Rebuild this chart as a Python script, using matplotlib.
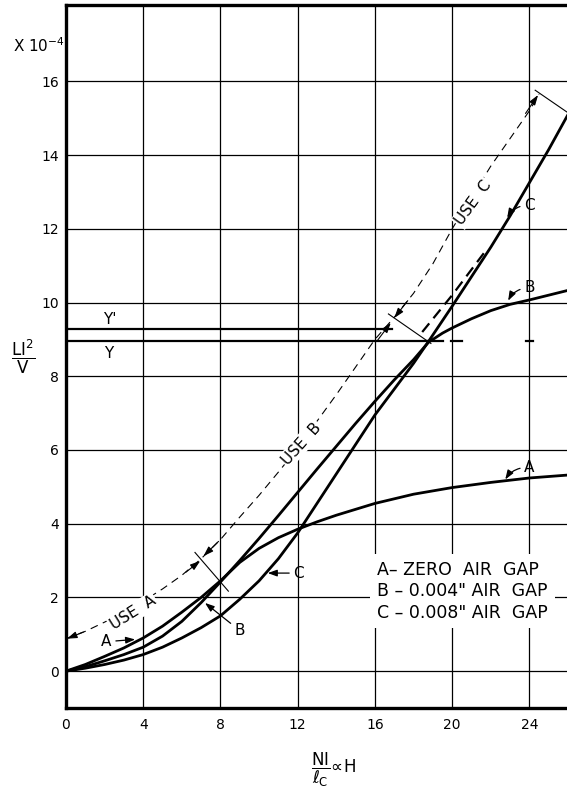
import matplotlib
matplotlib.use("Agg")
import matplotlib.pyplot as plt

# ---------------- data ----------------
x_ticks = [0, 4, 8, 12, 16, 20, 24]
y_ticks = [0, 2, 4, 6, 8, 10, 12, 14, 16]

# Curve A - zero air gap
a_x = [0, 1, 2, 3, 4, 5, 6, 7, 8, 9, 10, 11, 12, 13, 14, 16, 18, 20, 22, 24, 26]
a_y = [0, 0.18, 0.4, 0.63, 0.9, 1.22, 1.6, 2.0, 2.45, 2.95, 3.33, 3.62, 3.85, 4.05, 4.23, 4.55, 4.8, 4.98, 5.12, 5.24, 5.32]

# Curve B - 0.004" air gap
b_x = [0, 1, 2, 3, 4, 5, 6, 7, 8, 9, 10, 11, 12, 13, 14, 15, 16, 17, 18, 18.77, 19.5, 20, 21, 22, 23, 24, 25, 26]
b_y = [0, 0.12, 0.28, 0.45, 0.65, 0.95, 1.35, 1.86, 2.42, 3.0, 3.6, 4.22, 4.85, 5.48, 6.1, 6.72, 7.32, 7.9, 8.45, 8.92, 9.17, 9.31, 9.56, 9.78, 9.95, 10.07, 10.2, 10.33]

# Curve C - 0.008" air gap
c_x = [0, 1, 2, 3, 4, 5, 6, 7, 8, 9, 10, 11, 12, 13, 14, 15, 16, 17, 18, 18.77, 20, 21, 22, 23, 24, 25, 26]
c_y = [0, 0.08, 0.18, 0.3, 0.45, 0.65, 0.9, 1.18, 1.5, 1.95, 2.45, 3.05, 3.75, 4.55, 5.35, 6.15, 6.95, 7.65, 8.35, 8.94, 9.9, 10.7, 11.5, 12.35, 13.25, 14.15, 15.1]

# dashed extension of B (unsaturated)
bext_x = [18.45, 20.0, 21.8]
bext_y = [9.2, 10.2, 11.45]

# dashed "USE" guide line
guide_x = [0, 1, 2, 3, 4, 5, 6, 7, 8, 9, 10, 11, 12, 13, 14, 15, 16, 17, 18, 19, 20, 21, 22, 23, 24, 24.5]
guide_y = [0.88, 1.08, 1.33, 1.6, 1.9, 2.23, 2.6, 3.05, 3.57, 4.18, 4.77, 5.4, 6.05, 6.78, 7.5, 8.25, 9.0, 9.6, 10.25, 11.05, 12.0, 12.85, 13.7, 14.45, 15.2, 15.65]

# Y and Y' levels
y_level = 8.95
y_prime_level = 9.27
y_end = 18.77
y_prime_end = 16.9
ydash_starts = [18.77, 19.95, 23.8]
ydash_ends = [19.55, 20.5, 24.2]

legend_lines = ['A\u2013 ZERO  AIR  GAP', 'B \u2013 0.004" AIR  GAP', 'C \u2013 0.008" AIR  GAP']

# ---------------- figure ----------------
W, H = 567, 792
fig = plt.figure(figsize=(W / 100, H / 100), dpi=100)
ax = fig.add_axes([66 / W, 1 - 708 / H, 502 / W, 703.3 / H])
ax.set_xlim(0, 26)
ax.set_ylim(-1, 18.08)

ax.set_xticks(x_ticks)
ax.set_yticks(y_ticks)
ax.set_xticklabels([str(v) for v in x_ticks], fontsize=10)
ax.set_yticklabels([str(v) for v in y_ticks], fontsize=10)
ax.tick_params(length=0, pad=7, axis='x')
ax.tick_params(length=0, pad=5, axis='y')
ax.grid(True, color='black', lw=0.9)
ax.set_axisbelow(True)
for s in ['left', 'bottom', 'top']:
    ax.spines[s].set_linewidth(2.4)
ax.spines['right'].set_visible(False)

lw_curve = 2.0
ax.plot(a_x, a_y, color='black', lw=lw_curve, solid_capstyle='round', solid_joinstyle='round', zorder=4)
ax.plot(b_x, b_y, color='black', lw=lw_curve, solid_capstyle='round', solid_joinstyle='round', zorder=4)
ax.plot(c_x, c_y, color='black', lw=lw_curve, solid_capstyle='round', solid_joinstyle='round', zorder=4)
ax.plot(bext_x, bext_y, color='black', lw=1.6, ls=(0, (5, 3)), zorder=4)

# Y, Y' lines
ax.plot([0, y_end], [y_level, y_level], color='black', lw=1.6, zorder=3)
ax.plot([0, y_prime_end], [y_prime_level, y_prime_level], color='black', lw=1.6, zorder=3)
for s0, s1 in zip(ydash_starts, ydash_ends):
    ax.plot([s0, s1], [y_level, y_level], color='black', lw=1.6, zorder=3)
ax.text(2.28, 9.55, "Y'", fontsize=11, ha='center', va='center', zorder=5)
ax.text(2.23, 8.62, "Y", fontsize=11, ha='center', va='center', zorder=5)

# guide line
ax.plot(guide_x, guide_y, color='black', lw=0.8, ls=(0, (7, 5)), zorder=3)

# boundary ticks
ax.plot([6.68, 8.41], [3.22, 2.17], color='black', lw=0.8, zorder=3)
ax.plot([16.7, 18.9], [9.69, 8.89], color='black', lw=0.8, zorder=3)
ax.plot([24.3, 25.94], [15.76, 15.17], color='black', lw=0.8, zorder=3)

arrow_kw = dict(arrowstyle='-|>,head_length=0.6,head_width=0.2', color='black', lw=0.8,
                shrinkA=0, shrinkB=0)
def arrow(tip, tail):
    ax.annotate('', xy=tip, xytext=tail, arrowprops=arrow_kw, zorder=5)

arrow((0.05, 0.88), (0.9, 1.06))
arrow((6.95, 2.99), (6.2, 2.68))
arrow((7.12, 3.12), (7.9, 3.52))
arrow((16.82, 9.45), (16.1, 8.95))
arrow((17.0, 9.58), (17.7, 10.05))
arrow((24.45, 15.63), (23.8, 15.13))

# guide labels
bb = dict(facecolor='white', edgecolor='none', pad=1)
ax.text(3.47, 1.58, 'USE  A', rotation=32, fontsize=11, ha='center', va='center', bbox=bb, zorder=5)
ax.text(12.2, 6.17, 'USE  B', rotation=48, fontsize=11, ha='center', va='center', bbox=bb, zorder=5)
ax.text(21.1, 12.7, 'USE  C', rotation=54, fontsize=11, ha='center', va='center', bbox=bb, zorder=5)

# curve labels
lab_kw = dict(arrowstyle='-|>,head_length=0.5,head_width=0.18', color='black', lw=0.9,
              shrinkA=1, shrinkB=0)
ax.annotate('A', xy=(3.58, 0.86), xytext=(2.1, 0.8), fontsize=11, ha='center', va='center',
            arrowprops=lab_kw, zorder=5)
ax.annotate('B', xy=(7.2, 1.85), xytext=(9.0, 1.1), fontsize=11, ha='center', va='center',
            arrowprops=lab_kw, zorder=5)
ax.annotate('C', xy=(10.45, 2.66), xytext=(12.05, 2.66), fontsize=11, ha='center', va='center',
            arrowprops=lab_kw, zorder=5)
ax.annotate('A', xy=(22.75, 5.2), xytext=(24.0, 5.52), fontsize=11, ha='center', va='center',
            arrowprops=dict(lab_kw, connectionstyle='arc3,rad=0.3'), zorder=5)
ax.annotate('B', xy=(22.9, 10.05), xytext=(24.0, 10.4), fontsize=11, ha='center', va='center',
            arrowprops=dict(lab_kw, connectionstyle='arc3,rad=0.3'), zorder=5)
ax.annotate('C', xy=(22.85, 12.3), xytext=(24.0, 12.64), fontsize=11, ha='center', va='center',
            arrowprops=dict(lab_kw, connectionstyle='arc3,rad=0.3'), zorder=5)

# legend block
ax.text(16.1, 2.17, '\n'.join(legend_lines), fontsize=12.5, ha='left', va='center',
        linespacing=1.24, bbox=dict(facecolor='white', edgecolor='none', pad=5), zorder=5)

# axis labels
fig.text(13 / W, 1 - 52 / H, r'X 10$^{-4}$', fontsize=11, ha='left', va='baseline')
fig.text(23 / W, 1 - 357 / H, r'$\dfrac{\mathrm{LI}^{2}}{\mathrm{V}}$', fontsize=12,
         ha='center', va='center')
fig.text(334 / W, 1 - 770 / H, r'$\dfrac{\mathrm{NI}}{\ell_{\mathrm{C}}}\!\propto\!\mathrm{H}$',
         fontsize=12, ha='center', va='center')

fig.savefig('out.png', dpi=100)
